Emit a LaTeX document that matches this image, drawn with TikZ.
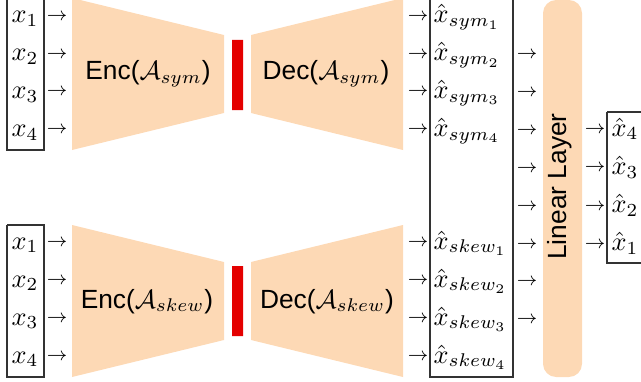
\documentclass[tikz,border=0pt]{standalone}
\usepackage{fontspec}
\newfontfamily\encfont{Liberation Sans}
\usepackage[x11names]{xcolor}
\usepackage{amsmath,amssymb}
\usetikzlibrary{positioning}
\definecolor{peach}{RGB}{253,217,181}
\definecolor{barred}{RGB}{228,0,0}
\tikzset{
  txt/.style={inner sep=0pt, anchor=base},
  arr/.style={inner sep=0pt, anchor=center},
  hatl/.style={inner sep=0pt, anchor=base west},
  blk/.style={inner sep=0pt, anchor=base, font=\encfont},
}
\newcommand{\rarr}{$\scriptstyle\rightarrow$}

\begin{document}
\begin{tikzpicture}[x=0.38pt, y=-0.38pt]
        \useasboundingbox (0,0) rectangle (641,381);
        \clip (0,0) rectangle (641,381);
        % sym branch
        \fill[color=peach] (72,-2)--(224,35)--(224,113)--(72,150)--(72,-2);
        \fill[color=barred] (232,40)--(243,40)--(243,110)--(232,110)--(232,40);
        \fill[color=peach] (251,35)--(403,-2)--(403,150)--(251,113)--(251,35);
        \node[blk] (encsym) at (148,80) {Enc($\mathcal{A}_{sym}$)};
        \node[blk] (decsym) at (326,80) {Dec($\mathcal{A}_{sym}$)};
        % skew branch
        \fill[color=peach] (72,225)--(224,262)--(224,340)--(72,377)--(72,225);
        \fill[color=barred] (232,266)--(243,266)--(243,336)--(232,336)--(232,266);
        \fill[color=peach] (251,262)--(403,225)--(403,377)--(251,340)--(251,262);
        \node[blk] (encskew) at (147,308) {Enc($\mathcal{A}_{skew}$)};
        \node[blk] (decskew) at (327,308) {Dec($\mathcal{A}_{skew}$)};
        % linear layer
        \fill[color=peach, rounded corners=5pt] (543,0) rectangle (582,377);
        \node[blk, rotate=90] (lin) at (566,186.5) {Linear Layer};
        % boxes
        \draw[color=black!80] (7,-2)--(44,-2)--(44,150)--(7,150)--(7,-2);
        \draw[color=black!80] (7,225)--(44,225)--(44,377)--(7,377)--(7,225);
        \draw[color=black!80] (430,-2)--(513,-2)--(513,377)--(430,377)--(430,-2);
        \draw[color=black!80] (607,112)--(650,112)--(650,263)--(607,263)--(607,112);
        % rows
        \foreach \i/\yy in {1/23,2/60.7,3/98.4,4/136.1} {
          \node[txt] (xsym\i) at (25,\yy) {$x_\i$};
          \node[arr] (insym\i) at (57,\yy-6) {\rarr};
          \node[arr] (outsym\i) at (418,\yy-6) {\rarr};
          \node[hatl] (hsym\i) at (433,\yy) {$\hat{x}_{sym_\i}$};
        }
        \foreach \i/\yy in {1/249,2/287,3/325,4/363} {
          \node[txt] (xskew\i) at (25,\yy) {$x_\i$};
          \node[arr] (inskew\i) at (57,\yy-6) {\rarr};
          \node[arr] (outskew\i) at (418,\yy-6) {\rarr};
          \node[hatl] (hskew\i) at (433,\yy) {$\hat{x}_{skew_\i}$};
        }
        \foreach \i in {1,...,8} {
          \node[arr] (tolin\i) at (527,{55+37.9*(\i-1)}) {\rarr};
        }
        \foreach \i/\j in {1/4,2/3,3/2,4/1} {
          \node[arr] (fromlin\i) at (595,{130+38.3*(\i-1)}) {\rarr};
          \node[hatl] (hout\j) at (611,{136+38.3*(\i-1)}) {$\hat{x}_\j$};
        }
    \end{tikzpicture}
\end{document}
